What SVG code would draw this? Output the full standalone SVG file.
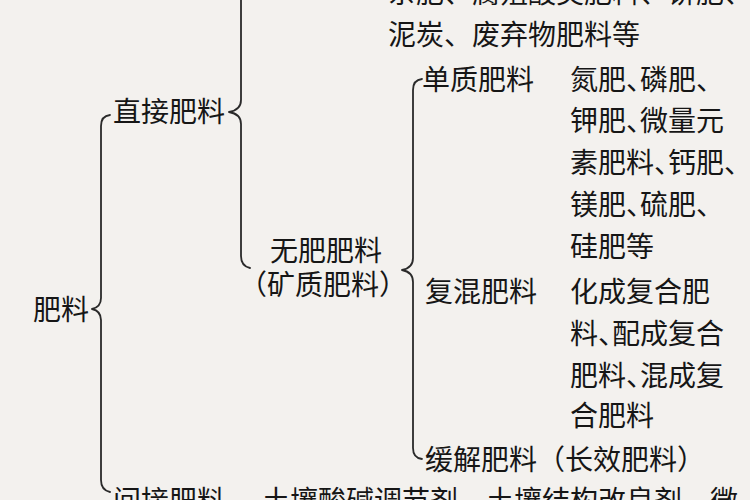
<svg xmlns="http://www.w3.org/2000/svg" width="750" height="500" viewBox="0 0 750 500">
<style>
text{font-family:"Noto Sans CJK SC","Noto Sans CJK TC",sans-serif;font-size:28px;fill:#161616;}
.h{font-feature-settings:"halt" 1;}
.br{fill:none;stroke:#2a2a2a;stroke-width:1.8;stroke-linecap:round;stroke-linejoin:round;}
</style>
<rect width="750" height="500" fill="#f3f1ee"/>
<g id="connectors">
<path class="br" d="M110,115 Q101,116 101,126 L101,298 Q101,307 92,309 Q101,311 101,320 L101,480 Q101,490 110,492"/>
<path class="br" d="M241,-5 L241,100 Q241,110 229,112 Q241,114 241,124 L241,256 Q241,266 250,268"/>
<path class="br" d="M422,79 Q413,80 413,90 L413,258 Q413,268 402,270 Q413,272 413,282 L413,448 Q413,458 422,459"/>
</g>
<g id="root"><text x="33" y="320">肥料</text></g>
<g id="direct"><text x="113" y="122">直接肥料</text></g>
<g id="organic">
<text x="388" y="3">杂肥、腐殖酸类肥料、饼肥、</text>
<text x="388" y="45">泥炭、废弃物肥料等</text>
</g>
<g id="inorganic">
<text x="270" y="261">无肥肥料</text>
<text class="h" x="253" y="295">（矿质肥料）</text>
</g>
<g id="single">
<text x="422" y="90">单质肥料</text>
<text class="h" x="570" y="90">氮肥、磷肥、</text>
<text class="h" x="570" y="131">钾肥、微量元</text>
<text class="h" x="570" y="173">素肥料、钙肥、</text>
<text class="h" x="570" y="215">镁肥、硫肥、</text>
<text x="570" y="257">硅肥等</text>
</g>
<g id="compound">
<text x="425" y="302">复混肥料</text>
<text x="570" y="302">化成复合肥</text>
<text class="h" x="570" y="344">料、配成复合</text>
<text class="h" x="570" y="386">肥料、混成复</text>
<text x="570" y="426">合肥料</text>
</g>
<g id="slow"><text x="425" y="470">缓解肥料（长效肥料）</text></g>
<g id="indirect">
<text x="113" y="511">间接肥料</text>
<text x="262" y="511">土壤酸碱调节剂、土壤结构改良剂、微</text>
</g>
</svg>
